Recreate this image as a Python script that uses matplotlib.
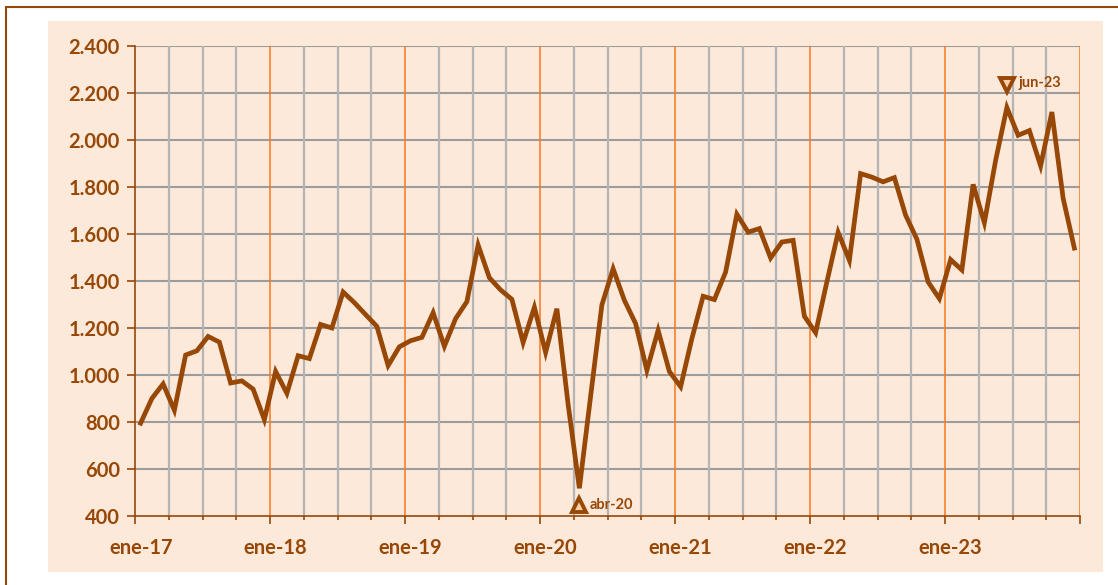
import numpy as np
import matplotlib
matplotlib.use("Agg")
import matplotlib.pyplot as plt
from matplotlib.patches import Rectangle

# Monthly values, ene-17 .. dic-23
years = ["17", "18", "19", "20", "21", "22", "23"]
months = ["ene", "feb", "mar", "abr", "may", "jun",
          "jul", "ago", "sep", "oct", "nov", "dic"]
values_2017 = [795, 900, 962, 850, 1085, 1103, 1164, 1140, 966, 975, 940, 810]
values_2018 = [1015, 922, 1082, 1070, 1215, 1200, 1353, 1308, 1257, 1207, 1040, 1120]
values_2019 = [1146, 1160, 1265, 1122, 1240, 1312, 1553, 1414, 1362, 1322, 1138, 1288]
values_2020 = [1096, 1282, 875, 518, 910, 1298, 1452, 1318, 1219, 1020, 1190, 1015]
values_2021 = [950, 1155, 1335, 1321, 1438, 1684, 1608, 1623, 1498, 1566, 1573, 1250]
values_2022 = [1180, 1396, 1607, 1488, 1857, 1842, 1822, 1840, 1680, 1578, 1396, 1325]
values_2023 = [1491, 1447, 1811, 1648, 1913, 2138, 2020, 2040, 1890, 2119, 1752, 1540]

y_ticks = [400, 600, 800, 1000, 1200, 1400, 1600, 1800, 2000, 2200, 2400]

BROWN = "#974706"
PEACH = "#FDE9D9"
ORANGE = "#F9781E"
GRID_V = "#B4B4B4"
GRID_H = "#9C9C9C"
FONT = "Lato"

values = np.array(values_2017 + values_2018 + values_2019 + values_2020
                  + values_2021 + values_2022 + values_2023, dtype=float)
labels = [m + "-" + y for y in years for m in months]
n = len(values)
x = np.arange(n) + 0.5


def thousands(v):
    return f"{int(v):,}".replace(",", ".")


fig = plt.figure(figsize=(11.18, 5.85), dpi=100)
W, H = 1118, 585

# outer frame and chart background (behind the axes)
fig.patches.append(Rectangle((6 / W, -0.05), 1.1, (H - 7) / H + 0.05,
                             transform=fig.transFigure, facecolor="white",
                             edgecolor=BROWN, linewidth=1.5, zorder=-3))
fig.patches.append(Rectangle((48 / W, 13 / H), (1103 - 48) / W, (572 - 21) / H,
                             transform=fig.transFigure, facecolor=PEACH,
                             edgecolor="none", zorder=-2))

ax = fig.add_axes([135 / W, (H - 516) / H, 945 / W, 470 / H])
ax.set_facecolor(PEACH)
ax.set_xlim(0, n)
ax.set_ylim(400, 2400)

# grid: horizontal every 200, vertical every quarter, orange at year start
for v in y_ticks[1:]:
    ax.axhline(v, color=GRID_H, lw=1.5, zorder=1)
for q in range(3, n + 1, 3):
    if q % 12 == 0:
        ax.axvline(q, color=ORANGE, lw=1.1, zorder=2)
    else:
        ax.axvline(q, color=GRID_V, lw=1.6, zorder=1)

ax.plot(x, values, color=BROWN, lw=3.4, solid_joinstyle="miter", zorder=4)

# min and max markers
i_min = int(np.argmin(values))
i_max = int(np.argmax(values))
ax.plot(x[i_min], values[i_min] - 72, marker="^", ms=10, mfc="#FBD0A8",
        mec=BROWN, mew=2.8, zorder=5, clip_on=False)
ax.text(x[i_min] + 0.9, values[i_min] - 72, labels[i_min], color=BROWN,
        fontsize=10.5, fontweight="bold", family=FONT, va="center", zorder=5)
ax.plot(x[i_max], values[i_max] + 97, marker="v", ms=10, mfc="#FBD0A8",
        mec=BROWN, mew=2.8, zorder=5, clip_on=False)
ax.text(x[i_max] + 1.0, values[i_max] + 103, labels[i_max], color=BROWN,
        fontsize=10.5, fontweight="bold", family=FONT, va="center", zorder=5)

# axes styling
for side in ["top", "right"]:
    ax.spines[side].set_visible(False)
ax.spines["left"].set_color(BROWN)
ax.spines["bottom"].set_color(BROWN)
ax.spines["left"].set_linewidth(1.2)
ax.spines["bottom"].set_linewidth(1.2)

ax.set_yticks(y_ticks)
ax.set_yticklabels([thousands(v) for v in y_ticks])
ax.set_xticks(range(0, n + 1, 12))
ax.set_xticklabels([])
ax.set_xticks(range(0, n + 1, 3), minor=True)
ax.tick_params(axis="y", colors=BROWN, length=6, width=1.2, pad=5,
               labelsize=14.5)
ax.tick_params(axis="x", which="major", colors=BROWN, length=6, width=1.2)
ax.tick_params(axis="x", which="minor", colors=BROWN, length=3, width=1.2)
for t in ax.get_yticklabels():
    t.set_fontweight("bold")
    t.set_family(FONT)

# year labels sit under the january category
for k in range(0, n, 12):
    ax.text(x[k], -32 / 470, labels[k], transform=ax.get_xaxis_transform(),
            color=BROWN, fontsize=14.5, fontweight="bold", family=FONT,
            ha="center", va="center")

fig.savefig("out.png", dpi=100)
